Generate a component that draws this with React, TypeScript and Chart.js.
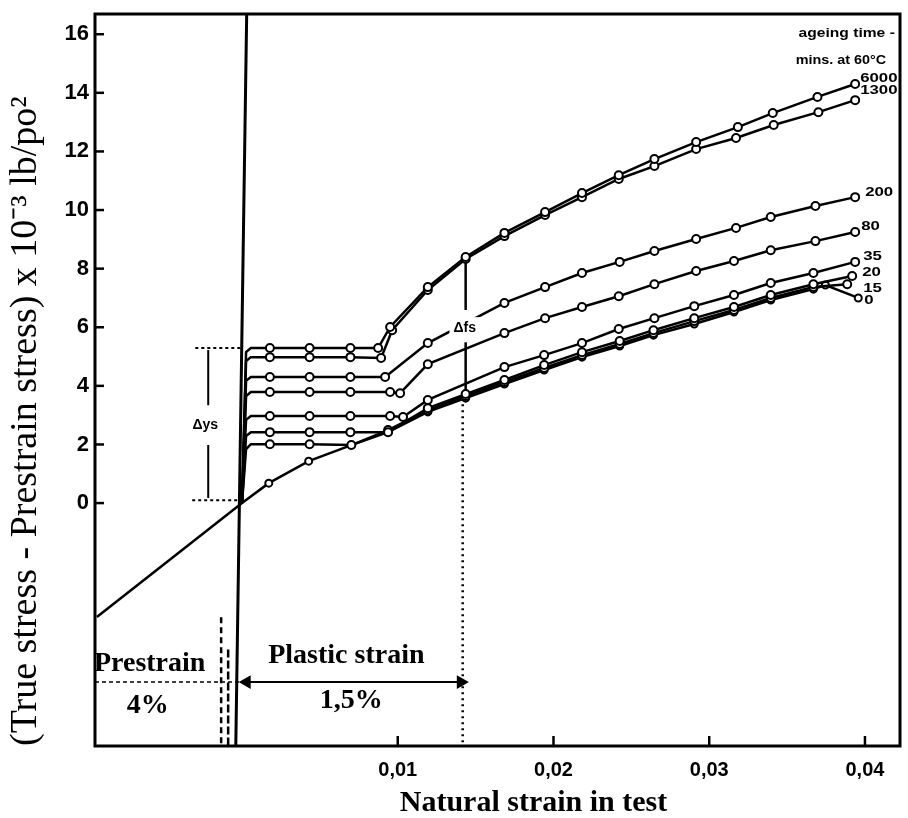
import React, { useEffect, useRef } from "react";
import { Chart, registerables } from "chart.js";
Chart.register(...registerables);

// ---- axis ranges & ticks ----
const X_MIN = -0.00944;
const X_MAX = 0.04225;
const Y_MIN = -8.29;
const Y_MAX = 16.69;
const X_TICKS = [0.01, 0.02, 0.03, 0.04];
const Y_TICKS = [0, 2, 4, 6, 8, 10, 12, 14, 16];

// ---- series: ageing time (mins at 60°C) ----
const AGEING_TIMES = ["6000", "1300", "200", "80", "35", "20", "15", "0"];

const STRAIN_6000 = [0, 0.00026, 0.00057, 0.00179, 0.00434, 0.00696, 0.00874, 0.00951, 0.01193, 0.01436, 0.01685, 0.01946, 0.02183, 0.02419, 0.02648, 0.02916, 0.03184, 0.03408, 0.03695, 0.03937];
const STRESS_6000 = [0, 5.15, 5.29, 5.29, 5.29, 5.29, 5.29, 6.01, 7.37, 8.40, 9.22, 9.93, 10.58, 11.19, 11.74, 12.32, 12.83, 13.31, 13.86, 14.30];

const STRAIN_1300 = [0, 0.00026, 0.00057, 0.00179, 0.00434, 0.00696, 0.00893, 0.00964, 0.01193, 0.01436, 0.01685, 0.01946, 0.02183, 0.02419, 0.02648, 0.02916, 0.03172, 0.03414, 0.03701, 0.03937];
const STRESS_1300 = [0, 4.85, 4.98, 4.98, 4.98, 4.98, 4.95, 5.90, 7.27, 8.33, 9.11, 9.83, 10.44, 11.06, 11.50, 12.08, 12.46, 12.90, 13.34, 13.75];

const STRAIN_200 = [0, 0.00026, 0.00057, 0.00179, 0.00434, 0.00696, 0.00919, 0.01193, 0.01685, 0.01946, 0.02183, 0.02425, 0.02648, 0.02916, 0.03172, 0.03395, 0.03682, 0.03937];
const STRESS_200 = [0, 4.17, 4.30, 4.30, 4.30, 4.30, 4.30, 5.46, 6.83, 7.37, 7.85, 8.23, 8.60, 9.01, 9.39, 9.76, 10.14, 10.44];

const STRAIN_80 = [0, 0.00026, 0.00057, 0.00179, 0.00434, 0.00696, 0.00951, 0.01015, 0.01193, 0.01685, 0.01946, 0.02183, 0.02419, 0.02648, 0.02916, 0.03159, 0.03395, 0.03682, 0.03937];
const STRESS_80 = [0, 3.65, 3.79, 3.79, 3.79, 3.79, 3.79, 3.75, 4.74, 5.80, 6.31, 6.69, 7.06, 7.47, 7.92, 8.26, 8.63, 8.94, 9.25];

const STRAIN_35 = [0, 0.00026, 0.00057, 0.00179, 0.00434, 0.00696, 0.00951, 0.01034, 0.01193, 0.01685, 0.01940, 0.02183, 0.02419, 0.02648, 0.02904, 0.03159, 0.03395, 0.03669, 0.03937];
const STRESS_35 = [0, 2.84, 2.97, 2.97, 2.97, 2.97, 2.97, 2.94, 3.52, 4.64, 5.05, 5.46, 5.94, 6.31, 6.72, 7.10, 7.51, 7.85, 8.23];

const STRAIN_20 = [0, 0.00026, 0.00057, 0.00179, 0.00434, 0.00696, 0.00938, 0.01193, 0.01436, 0.01685, 0.01940, 0.02183, 0.02425, 0.02642, 0.02904, 0.03159, 0.03395, 0.03669, 0.03918];
const STRESS_20 = [0, 2.29, 2.42, 2.42, 2.42, 2.42, 2.42, 3.24, 3.72, 4.20, 4.71, 5.15, 5.53, 5.90, 6.31, 6.69, 7.10, 7.47, 7.75];

const STRAIN_15 = [0, 0.00026, 0.00057, 0.00179, 0.00434, 0.00702, 0.00938, 0.01193, 0.01436, 0.01685, 0.01940, 0.02183, 0.02425, 0.02642, 0.02904, 0.03159, 0.03395, 0.03669, 0.03886];
const STRESS_15 = [0, 1.84, 2.01, 2.01, 2.01, 1.98, 2.49, 3.17, 3.65, 4.13, 4.61, 5.05, 5.43, 5.80, 6.21, 6.59, 7.00, 7.37, 7.47];

const STRAIN_0 = [-0.00932, 0, 0.00172, 0.00428, 0.00702, 0.00938, 0.01193, 0.01436, 0.01685, 0.01940, 0.02183, 0.02425, 0.02642, 0.02904, 0.03159, 0.03395, 0.03669, 0.03746, 0.03957];
const STRESS_0 = [-3.89, 0, 0.68, 1.43, 1.98, 2.42, 3.11, 3.58, 4.06, 4.54, 4.98, 5.36, 5.73, 6.11, 6.52, 6.93, 7.30, 7.44, 7.00];

const STRAINS = [STRAIN_6000, STRAIN_1300, STRAIN_200, STRAIN_80, STRAIN_35, STRAIN_20, STRAIN_15, STRAIN_0];
const STRESSES = [STRESS_6000, STRESS_1300, STRESS_200, STRESS_80, STRESS_35, STRESS_20, STRESS_15, STRESS_0];

// ---- construction lines (strain, stress) ----
const ELASTIC_STRAIN = [0.0003, -0.0004];
const ELASTIC_STRESS = [16.69, -8.29];
const DYS_TOP_STRAIN = [-0.0030, 0];
const DYS_TOP_STRESS = [5.29, 5.29];
const DYS_BOT_STRAIN = [-0.0032, 0];
const DYS_BOT_STRESS = [0.1, 0.1];
const DYS_UP_STRAIN = [-0.00217, -0.00217];
const DYS_UP_STRESS = [5.22, 3.34];
const DYS_LOW_STRAIN = [-0.00217, -0.00217];
const DYS_LOW_STRESS = [1.98, 0.17];
const DFS_UP_STRAIN = [0.01436, 0.01436];
const DFS_UP_STRESS = [8.40, 6.59];
const DFS_LOW_STRAIN = [0.01436, 0.01436];
const DFS_LOW_STRESS = [5.49, 3.62];
const PLASTIC_END_STRAIN = [0.01417, 0.01417];
const PLASTIC_END_STRESS = [3.58, -8.29];
const PRESTRAIN_STRAIN = [-0.00944, 0];
const PRESTRAIN_STRESS = [-6.11, -6.11];
const ARROW_STRAIN = [0.0003, 0.01405];
const ARROW_STRESS = [-6.11, -6.11];
const DASH1_STRAIN = [-0.00134, -0.00134];
const DASH1_STRESS = [-3.9, -8.29];
const DASH2_STRAIN = [-0.00089, -0.00089];
const DASH2_STRESS = [-5.0, -8.29];

const pts = (xs: number[], ys: number[]) => xs.map((x, i) => ({ x, y: ys[i] }));

// ---- text notes (placed in data units) ----
const NOTES = [
  { text: "ageing time -", x: 0.03574, y: 16.01, font: "bold 12px 'Liberation Sans'", align: "left", sx: 1.3 },
  { text: "mins. at 60°C", x: 0.03555, y: 15.09, font: "bold 12px 'Liberation Sans'", align: "left", sx: 1.2 },
  { text: "\u0394ys", x: -0.00236, y: 2.66, font: "bold 14px 'Liberation Sans'", align: "center", bg: true },
  { text: "\u0394fs", x: 0.01430, y: 5.97, font: "bold 14px 'Liberation Sans'", align: "center", bg: true },
  { text: "Prestrain", x: -0.00593, y: -5.49, font: "bold 28px 'Liberation Serif'", align: "center" },
  { text: "4%", x: -0.00606, y: -6.93, font: "bold 28px 'Liberation Serif'", align: "center" },
  { text: "Plastic strain", x: 0.00670, y: -5.22, font: "bold 28px 'Liberation Serif'", align: "center" },
  { text: "1,5%", x: 0.00702, y: -6.76, font: "bold 28px 'Liberation Serif'", align: "center" },
];
// pixel offsets of end-of-curve labels from each curve's last point
const LABEL_DX = [5, 5, 10, 6, 8, 10, 16, 6];
const LABEL_DY = [-5, -9, -4, -5, -5, -3, 5, 3];

const overlay = {
  id: "overlay",
  afterDatasetsDraw(chart: any) {
    const { ctx, chartArea, scales } = chart;
    const { left, right, top, bottom } = chartArea;
    const xs = scales.x;
    const ys = scales.y;
    ctx.save();
    ctx.strokeStyle = "#000";
    ctx.fillStyle = "#000";
    // frame
    ctx.lineWidth = 3;
    ctx.strokeRect(left, top, right - left, bottom - top);
    // inward ticks
    ctx.lineWidth = 2.5;
    Y_TICKS.forEach((v) => {
      const py = ys.getPixelForValue(v);
      ctx.beginPath();
      ctx.moveTo(left, py);
      ctx.lineTo(left + 9, py);
      ctx.stroke();
    });
    X_TICKS.forEach((v) => {
      const px = xs.getPixelForValue(v);
      ctx.beginPath();
      ctx.moveTo(px, bottom);
      ctx.lineTo(px, bottom - 10);
      ctx.stroke();
    });
    // notes
    ctx.textBaseline = "middle";
    NOTES.forEach((n: any) => {
      const px = xs.getPixelForValue(n.x);
      const py = ys.getPixelForValue(n.y);
      ctx.font = n.font;
      ctx.textAlign = n.align;
      if (n.bg) {
        const w = ctx.measureText(n.text).width;
        ctx.fillStyle = "#fff";
        ctx.fillRect(px - w / 2 - 4, py - 11, w + 8, 22);
        ctx.fillStyle = "#000";
      }
      ctx.save();
      ctx.translate(px, py);
      ctx.scale(n.sx || 1, 1);
      ctx.fillText(n.text, 0, 0);
      ctx.restore();
    });
    // curve labels (hand-lettered: wide and short)
    ctx.font = "bold 12px 'Liberation Sans'";
    ctx.textAlign = "left";
    AGEING_TIMES.forEach((t, i) => {
      const sx = STRAINS[i];
      const sy = STRESSES[i];
      const px = xs.getPixelForValue(sx[sx.length - 1]) + LABEL_DX[i];
      const py = ys.getPixelForValue(sy[sy.length - 1]) + LABEL_DY[i];
      ctx.save();
      ctx.translate(px, py);
      ctx.scale(1.4, 1);
      ctx.fillText(t, 0, 0);
      ctx.restore();
    });
    // x title
    ctx.font = "bold 30px 'Liberation Serif'";
    ctx.textAlign = "center";
    ctx.fillText("Natural strain in test", (left + right) / 2 + 36, bottom + 57);
    ctx.restore();
  },
};

export default function App() {
  const ref = useRef<HTMLCanvasElement>(null);
  useEffect(() => {
    document.body.style.margin = "0";
    const curveSets = AGEING_TIMES.map((t, i) => ({
      label: t,
      data: pts(STRAINS[i], STRESSES[i]),
      showLine: true,
      borderColor: "#000",
      borderWidth: 2.5,
      pointBackgroundColor: "#fff",
      pointBorderColor: "#000",
      pointBorderWidth: 2,
      pointRadius: (c: any) => (c.raw && c.raw.x > 0.001 ? (t === "0" ? 3.5 : 4) : 0),
    }));
    const line = (xs: number[], ys: number[], width: number, dash: number[] = []) => ({
      data: pts(xs, ys),
      showLine: true,
      borderColor: "#000",
      borderWidth: width,
      borderDash: dash,
      pointRadius: 0,
    });
    const construction = [
      line(ELASTIC_STRAIN, ELASTIC_STRESS, 3),
      line(DYS_TOP_STRAIN, DYS_TOP_STRESS, 2, [3, 3]),
      line(DYS_BOT_STRAIN, DYS_BOT_STRESS, 2, [3, 3]),
      line(DYS_UP_STRAIN, DYS_UP_STRESS, 2),
      line(DYS_LOW_STRAIN, DYS_LOW_STRESS, 2),
      line(DFS_UP_STRAIN, DFS_UP_STRESS, 2.5),
      line(DFS_LOW_STRAIN, DFS_LOW_STRESS, 2.5),
      line(PLASTIC_END_STRAIN, PLASTIC_END_STRESS, 2.5, [2, 4]),
      line(PRESTRAIN_STRAIN, PRESTRAIN_STRESS, 1.5, [4, 3]),
      line(DASH1_STRAIN, DASH1_STRESS, 2.5, [6, 4]),
      line(DASH2_STRAIN, DASH2_STRESS, 2.5, [8, 3]),
      {
        data: pts(ARROW_STRAIN, ARROW_STRESS),
        showLine: true,
        borderColor: "#000",
        borderWidth: 2,
        pointStyle: "triangle",
        pointRotation: [270, 90],
        pointRadius: 6,
        pointBackgroundColor: "#000",
        pointBorderColor: "#000",
      },
    ];
    const chart = new Chart(ref.current as HTMLCanvasElement, {
      type: "scatter",
      data: { datasets: [...curveSets, ...construction] as any },
      options: {
        animation: false,
        responsive: false,
        maintainAspectRatio: false,
        layout: { padding: { left: 0, top: 14, right: 1, bottom: 0 } },
        plugins: { legend: { display: false }, tooltip: { enabled: false } },
        scales: {
          x: {
            type: "linear",
            min: X_MIN,
            max: X_MAX,
            afterBuildTicks: (s: any) => {
              s.ticks = X_TICKS.map((v) => ({ value: v }));
            },
            afterFit: (s: any) => {
              s.height = 72;
              s.paddingLeft = 0;
              s.paddingRight = 0;
            },
            grid: { display: false, drawTicks: false },
            border: { display: false },
            ticks: {
              padding: 12,
              color: "#000",
              autoSkip: false,
              maxRotation: 0,
              font: { family: "Liberation Sans", size: 20, weight: "bold" },
              callback: (v: any) => Number(v).toFixed(2).replace(".", ","),
            },
          },
          y: {
            type: "linear",
            min: Y_MIN,
            max: Y_MAX,
            afterBuildTicks: (s: any) => {
              s.ticks = Y_TICKS.map((v) => ({ value: v }));
            },
            afterFit: (s: any) => {
              s.width = 95;
              s.paddingTop = 0;
              s.paddingBottom = 0;
            },
            grid: { display: false, drawTicks: false },
            border: { display: false },
            ticks: {
              padding: 6,
              color: "#000",
              autoSkip: false,
              font: { family: "Liberation Sans", size: 22, weight: "bold" },
              callback: (v: any) => String(v),
            },
            title: {
              display: true,
              text: "(True stress - Prestrain stress) x 10\u207B\u00B3 lb/po\u00B2",
              align: "start",
              color: "#000",
              font: { family: "Liberation Serif", size: 38 },
              padding: { top: 3, bottom: 0 },
            },
          },
        },
      } as any,
      plugins: [overlay],
    });
    return () => chart.destroy();
  }, []);
  return (
    <div style={{ width: 908, height: 818, background: "#fff" }}>
      <canvas ref={ref} width={908} height={818} style={{ display: "block" }} />
    </div>
  );
}
